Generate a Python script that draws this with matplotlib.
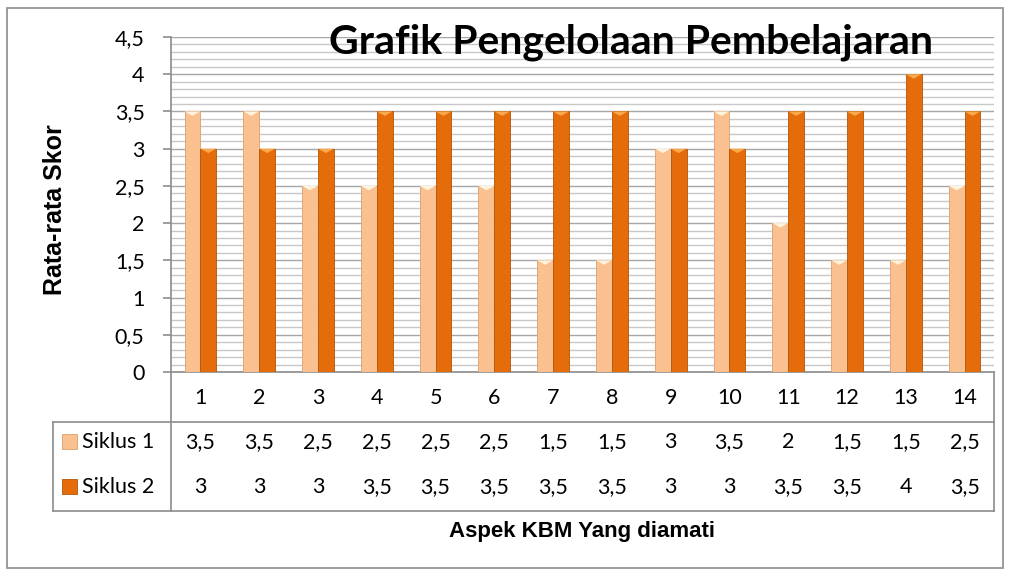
import matplotlib.pyplot as plt
import matplotlib.transforms as mtransforms
from matplotlib.patches import Rectangle
import numpy as np

# data
aspek = [str(i) for i in range(1, 15)]
siklus1 = [3.5, 3.5, 2.5, 2.5, 2.5, 2.5, 1.5, 1.5, 3, 3.5, 2, 1.5, 1.5, 2.5]
siklus2 = [3, 3, 3, 3.5, 3.5, 3.5, 3.5, 3.5, 3, 3, 3.5, 3.5, 4, 3.5]
series_names = ['Siklus 1', 'Siklus 2']
yticks = [0, 0.5, 1, 1.5, 2, 2.5, 3, 3.5, 4, 4.5]

c1 = '#FAC090'
c2 = '#E46C0A'
e1 = '#D9A070'
e2 = '#B05508'
lc = '#8C8C8C'
fs = 15.5  # tick / table text size

def fmt(v):
    return ('%g' % v).replace('.', ',')

W, H = 1011, 576
fig = plt.figure(figsize=(W / 100, H / 100), dpi=100)

# outer chart border
fig.patches.append(Rectangle((7 / W, 8 / H), (1003 - 7) / W, (568 - 8) / H,
                             transform=fig.transFigure, fill=False,
                             edgecolor=lc, lw=1.2))

left, right, top, bottom = 171, 994, 37, 372
ax = fig.add_axes([left / W, 1 - bottom / H, (right - left) / W, (bottom - top) / H])

x = np.arange(len(aspek))
bw = 0.27
ax.bar(x - bw / 2, siklus1, bw, color=c1, edgecolor=e1, lw=0.6, zorder=3)
ax.bar(x + bw / 2, siklus2, bw, color=c2, edgecolor=e2, lw=0.6, zorder=3)

# bevel highlight at top of bars
for xi, v1, v2 in zip(x, siklus1, siklus2):
    for xc, v, col in ((xi - bw / 2, v1, '#FFF3DC'), (xi + bw / 2, v2, '#F9A84C')):
        ax.fill([xc - bw / 2, xc + bw / 2, xc], [v, v, v - 0.06], color=col, zorder=4, lw=0)

ax.set_xlim(-0.5, len(aspek) - 0.5)
ax.set_ylim(0, 4.5)
ax.set_yticks(yticks)
ax.set_yticklabels([fmt(v) for v in yticks], fontsize=fs, family='Lato')
ax.set_yticks(np.arange(0, 4.51, 0.1), minor=True)
ax.tick_params(axis='y', which='major', length=6, width=1.2, color=lc, pad=13)
ax.tick_params(axis='y', which='minor', length=0)
ax.set_xticks([])
ax.grid(axis='y', which='major', color='#A6A6A6', lw=1.0, zorder=0)
ax.grid(axis='y', which='minor', color='#C8C8C8', lw=1.0, zorder=0)
for s in ['top', 'right', 'bottom']:
    ax.spines[s].set_visible(False)
ax.spines['left'].set_color(lc)
ax.spines['left'].set_linewidth(1.2)

# data table below the axis
tr = mtransforms.blended_transform_factory(ax.transData, ax.transAxes)
px = lambda yy: (bottom - yy) / (bottom - top)  # pixel row -> axes fraction
fx = lambda xx: (xx - left) / (right - left)    # pixel col -> axes fraction
line_kw = dict(transform=ax.transAxes, color=lc, lw=1.2, clip_on=False)
tab_l = 53
ax.plot([0, 1], [px(372), px(372)], **line_kw)
ax.plot([fx(tab_l), 1], [px(422), px(422)], **line_kw)
ax.plot([fx(tab_l), 1], [px(511), px(511)], **line_kw)
ax.plot([0, 0], [px(372), px(511)], **line_kw)
ax.plot([1, 1], [px(372), px(511)], **line_kw)
ax.plot([fx(tab_l), fx(tab_l)], [px(422), px(511)], **line_kw)

for xi, lab in zip(x, aspek):
    ax.text(xi, px(398), lab, transform=tr, ha='center', va='center',
            fontsize=fs, family='Lato', clip_on=False)
for row_y, vals in ((442, siklus1), (487, siklus2)):
    for xi, v in zip(x, vals):
        ax.text(xi, px(row_y), fmt(v), transform=tr, ha='center', va='center',
                fontsize=fs, family='Lato', clip_on=False)

for row_y, name, col, ec in ((442, series_names[0], c1, e1), (487, series_names[1], c2, e2)):
    fig.patches.append(Rectangle((62 / W, 1 - (row_y + 7) / H), 15 / W, 15 / H,
                                 transform=fig.transFigure, facecolor=col,
                                 edgecolor=ec, lw=0.6))
    fig.text(82 / W, 1 - row_y / H, name, ha='left', va='center',
             fontsize=fs, family='Lato')

fig.text(631 / W, 1 - 42 / H, 'Grafik Pengelolaan Pembelajaran', ha='center',
         va='center', fontsize=29.5, fontweight='bold', family='Lato')
fig.text(55 / W, 1 - 210 / H, 'Rata-rata Skor', rotation=90, ha='center',
         va='center', fontsize=18, fontweight='bold', family='Liberation Sans')
fig.text(582 / W, 1 - 531 / H, 'Aspek KBM Yang diamati', ha='center',
         va='center', fontsize=16, fontweight='bold', family='Liberation Sans')

fig.savefig('out.png', dpi=100)
